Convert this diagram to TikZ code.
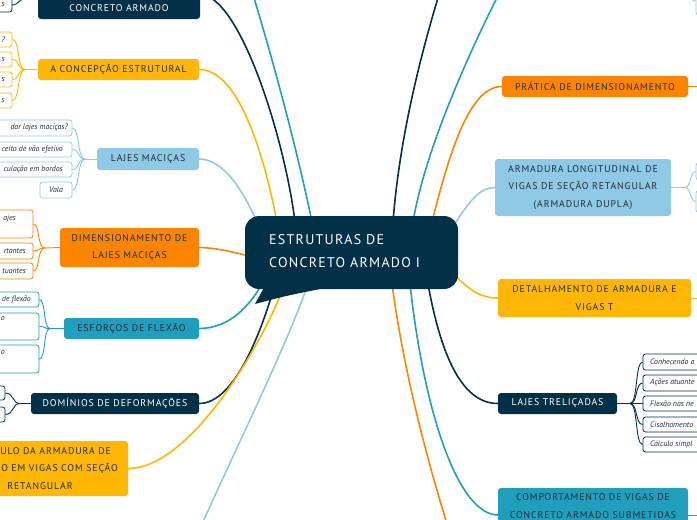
\documentclass[tikz,border=0pt]{standalone}
\usepackage{fontspec}
\setmainfont{PT Sans}
\newfontfamily\tfont[LetterSpace=9]{PT Sans}
\newfontfamily\lfont{PT Sans}
\definecolor{cNavy}{HTML}{023047}
\definecolor{cTeal}{HTML}{219EBC}
\definecolor{cLblue}{HTML}{8ECAE6}
\definecolor{cYel}{HTML}{FFB703}
\definecolor{cOr}{HTML}{FB8500}
\definecolor{cTxt}{HTML}{22303A}
\tikzset{
  topic/.style={rounded corners=3pt, inner sep=0pt, align=center, text=cTxt,
    font=\tfont\fontsize{9.8pt}{17.5pt}\selectfont},
  darktopic/.style={topic, fill=cNavy, text=white},
  leafbox/.style={draw=#1, fill=white, rounded corners=2.5pt, line width=0.8pt, inner sep=0pt},
  ltext/.style={inner sep=0pt, text=cTxt, font=\lfont\itshape\fontsize{7.8pt}{9pt}\selectfont},
  conn/.style={line width=1.6pt, #1},
  sub/.style={line width=0.9pt, #1},
}
\begin{document}
\begin{tikzpicture}[x=1pt,y=-1pt]
\useasboundingbox (0,0) rectangle (697,520);
\clip (0,0) rectangle (697,520);
\fill[white] (0,0) rectangle (697,520);

% ---------- topic boxes ----------
\node[darktopic, minimum width=162pt, minimum height=40pt] (concreto) at (119,-1) {};
\node[inner sep=0pt, text=white, font=\tfont\fontsize{9.8pt}{17pt}\selectfont] (concretot) at (119,8) {CONCRETO ARMADO};
\node[topic, fill=cYel, minimum width=161pt, minimum height=21pt] (concep) at (118.5,69.5) {A CONCEPÇÃO ESTRUTURAL};
\node[topic, fill=cLblue, minimum width=102pt, minimum height=22pt] (lajesm) at (148,159) {LAJES MACIÇAS};
\node[topic, fill=cOr, minimum width=139pt, minimum height=39pt] (dimlm) at (129.5,247.5) {DIMENSIONAMENTO DE\\LAJES MACIÇAS};
\node[topic, fill=cTeal, minimum width=135pt, minimum height=21pt] (esforc) at (131.5,328.5) {ESFORÇOS DE FLEXÃO};
\node[darktopic, minimum width=168pt, minimum height=21pt] (dominios) at (115,403.5) {DOMÍNIOS DE DEFORMAÇÕES};
\node[topic, fill=cYel, minimum width=176pt, minimum height=55pt] (calc) at (40,468.5) {};
\node[topic, anchor=east] (calc1) at (111,451) {ULO DA ARMADURA DE};
\node[topic, anchor=east] (calc2) at (118,468.5) {O EM VIGAS COM SEÇÃO};
\node[topic] (calc3) at (40,486) {RETANGULAR};

\node[topic, fill=cOr, minimum width=186pt, minimum height=21pt] (pratica) at (595,86.5) {PRÁTICA DE DIMENSIONAMENTO};
\node[topic, fill=cLblue, minimum width=176pt, minimum height=57pt] (armlong) at (583,187.5) {ARMADURA LONGITUDINAL DE\\VIGAS DE SEÇÃO RETANGULAR\\(ARMADURA DUPLA)};
\node[topic, fill=cYel, minimum width=193pt, minimum height=38pt] (detalh) at (594.5,298) {DETALHAMENTO DE ARMADURA E\\VIGAS T};
\node[darktopic, minimum width=119pt, minimum height=21pt] (lajestr) at (557.5,403.5) {LAJES TRELIÇADAS};
\node[topic, fill=cTeal, minimum width=190pt, minimum height=60pt] (comport) at (593,518) {};
\node[topic] (comportt) at (593,506) {COMPORTAMENTO DE VIGAS DE\\CONCRETO ARMADO SUBMETIDAS};

% off-picture ends
\coordinate (offA) at (251,-12);
\coordinate (offB) at (195,540);
\coordinate (offC) at (441,-12);
\coordinate (offD) at (502,-12);
\coordinate (offE) at (452,540);

% ---------- main connectors ----------
\draw[conn=cNavy] (199,-6) .. controls (240,-6) and (285,140) .. (295,222);
\draw[conn=cYel] (concep.east) .. controls (240,69.5) and (265,160) .. (277,222);
\draw[conn=cLblue] (lajesm.east) .. controls (225,159) and (245,195) .. (257,222);
\draw[conn=cOr] (dimlm.east) .. controls (220,248) and (235,253) .. (250,256);
\draw[conn=cTeal] (esforc.east) .. controls (230,328.5) and (250,305) .. (262,284);
\draw[conn=cNavy] (dominios.east) .. controls (235,403.5) and (262,330) .. (275,284);
\draw[conn=cYel] (calc.east) .. controls (190,468.5) and (262,345) .. (285,284);
\draw[conn=cLblue] (308,284) .. controls (285,350) and (230,460) .. (offB);
\draw[conn=cTeal] (312,222) .. controls (295,140) and (270,50) .. (offA);

\draw[conn=cNavy] (393,222) .. controls (400,130) and (425,40) .. (offC);
\draw[conn=cTeal] (413,222) .. controls (425,150) and (470,50) .. (offD);
\draw[conn=cOr] (432,222) .. controls (450,150) and (470,86.5) .. (pratica.west);
\draw[conn=cLblue] (452,228) .. controls (470,200) and (480,187.5) .. (armlong.west);
\draw[conn=cYel] (452,273) .. controls (470,290) and (480,298) .. (detalh.west);
\draw[conn=cNavy] (428,284) .. controls (440,350) and (460,403.5) .. (lajestr.west);
\draw[conn=cTeal] (410,284) .. controls (425,420) and (460,515) .. (498,515);
\draw[conn=cOr] (392,284) .. controls (405,380) and (430,470) .. (offE);

% ---------- central node ----------
\node[fill=cNavy, rounded corners=14pt, minimum width=213pt, minimum height=73pt, inner sep=0pt] (central) at (351.5,252.5) {};
\fill[cNavy] (266,284) -- (255,304) .. controls (285,296) .. (335,286) -- cycle;
\node[anchor=west, align=left, inner sep=0pt, text=white, font=\tfont\fontsize{14pt}{23pt}\selectfont] (ctitle) at (269,251.5) {ESTRUTURAS DE\\CONCRETO ARMADO I};

% ---------- right-side stubs ----------
\coordinate (rA) at (697,86.5);
\coordinate (rB) at (697,298);
\coordinate (rC) at (697,515);
\draw[sub=cOr] (pratica.east) -- (rA);
\draw[sub=cYel] (detalh.east) -- (rB);
\draw[sub=cTeal] (688,515) -- (rC);

% ---------- leaves: CONCRETO ARMADO ----------
\node[leafbox=cNavy, minimum width=42pt, minimum height=24pt] (k1) at (-9,0) {};
\node[ltext, anchor=east] (k1t) at (5,5) {s};
\coordinate (jk) at (25,-1);
\draw[sub=cNavy] (concreto.west |- jk) -- (jk) .. controls (18,-1) and (19,5) .. (12,5);

% ---------- leaves: A CONCEPÇÃO ----------
\node[leafbox=cYel, minimum width=42pt, minimum height=15pt] (a1) at (-9,39.5) {};
\node[leafbox=cYel, minimum width=42pt, minimum height=15pt] (a2) at (-9,59.5) {};
\node[leafbox=cYel, minimum width=42pt, minimum height=15pt] (a3) at (-9,79.5) {};
\node[leafbox=cYel, minimum width=42pt, minimum height=15pt] (a4) at (-9,100.5) {};
\node[ltext, anchor=east] at (5,39.5) {?};
\node[ltext, anchor=east] at (5,59.5) {s};
\node[ltext, anchor=east] at (5,79.5) {s};
\node[ltext, anchor=east] at (5,100.5) {s};
\coordinate (ja) at (25,69.5);
\draw[sub=cYel] (concep.west) -- (ja);
\foreach \n in {a1,a2,a3,a4}{
  \draw[sub=cYel] (ja) .. controls (17,69.5) and (20,0|-\n.east) .. (\n.east);
}

% ---------- leaves: LAJES MACIÇAS ----------
\node[leafbox=cLblue, minimum width=102pt, minimum height=16pt] (b1) at (21,128) {};
\node[leafbox=cLblue, minimum width=102pt, minimum height=15pt] (b2) at (21,149.5) {};
\node[leafbox=cLblue, minimum width=102pt, minimum height=15pt] (b3) at (21,169.5) {};
\node[leafbox=cLblue, minimum width=32pt, minimum height=16pt] (b4) at (56,190) {};
\node[ltext, anchor=east] at (68,128) {dar lajes maciças?};
\node[ltext, anchor=east] at (63,149.5) {ceito de vão efetivo};
\node[ltext, anchor=east] at (63,169.5) {culação em bordos};
\node[ltext] at (56,190) {Vala};
\coordinate (jb) at (85,159);
\draw[sub=cLblue] (lajesm.west) -- (jb);
\foreach \n in {b1,b2,b3,b4}{
  \draw[sub=cLblue] (jb) .. controls (77,159) and (80,0|-\n.east) .. (\n.east);
}

% ---------- leaves: DIMENSIONAMENTO DE LAJES ----------
\node[leafbox=cOr, minimum width=60pt, minimum height=28pt] (d1) at (3,224) {};
\node[leafbox=cOr, minimum width=60pt, minimum height=16pt] (d2) at (3,251) {};
\node[leafbox=cOr, minimum width=60pt, minimum height=16pt] (d3) at (3,271) {};
\node[ltext, anchor=east] at (16,219) {ajes};
\node[ltext, anchor=east] at (26,251) {rtantes};
\node[ltext, anchor=east] at (26,271) {tuantes};
\coordinate (jd) at (45,248);
\draw[sub=cOr] (dimlm.west) -- (jd);
\foreach \n in {d1,d2,d3}{
  \draw[sub=cOr] (jd) .. controls (37,248) and (40,0|-\n.east) .. (\n.east);
}

% ---------- leaves: ESFORÇOS DE FLEXÃO ----------
\node[leafbox=cTeal, minimum width=60pt, minimum height=15pt] (e1) at (9,299.5) {};
\node[leafbox=cTeal, minimum width=60pt, minimum height=27pt] (e2) at (9,326.5) {};
\node[leafbox=cTeal, minimum width=60pt, minimum height=28pt] (e3) at (9,359) {};
\node[ltext, anchor=east] at (31,299.5) {de flexão};
\node[ltext, anchor=east] at (5,319) {o};
\node[ltext, anchor=east] at (5,353) {o};
\coordinate (je) at (50,328.5);
\draw[sub=cTeal] (esforc.west) -- (je);
\foreach \n in {e1,e2,e3}{
  \draw[sub=cTeal] (je) .. controls (43,328.5) and (46,0|-\n.east) .. (\n.east);
}

% ---------- leaves: DOMÍNIOS ----------
\node[leafbox=cNavy, minimum width=40pt, minimum height=14pt] (f1) at (-15,393) {};
\node[leafbox=cNavy, minimum width=40pt, minimum height=15pt] (f2) at (-15,414.5) {};
\coordinate (jf) at (20,403.5);
\draw[sub=cNavy] (dominios.west) -- (jf);
\foreach \n in {f1,f2}{
  \draw[sub=cNavy] (jf) .. controls (12,403.5) and (14,0|-\n.east) .. (\n.east);
}

% ---------- leaves: ARMADURA LONGITUDINAL ----------
\node[leafbox=cLblue, minimum width=60pt, minimum height=17pt] (g1) at (726,171.5) {};
\node[leafbox=cLblue, minimum width=60pt, minimum height=22pt] (g2) at (726,201.5) {};
\coordinate (jg) at (685,187.5);
\draw[sub=cLblue] (armlong.east) -- (jg);
\foreach \n in {g1,g2}{
  \draw[sub=cLblue] (jg) .. controls (691,187.5) and (690,0|-\n.west) .. (\n.west);
}

% ---------- top-right leaf fragment ----------
\node[leafbox=cLblue, minimum width=60pt, minimum height=28pt] (h1) at (726,1) {};
\coordinate (jh) at (684,-12);
\draw[sub=cLblue] (jh) .. controls (692,-12) and (688,1) .. (h1.west);

% ---------- leaves: LAJES TRELIÇADAS ----------
\node[leafbox=cNavy, minimum width=120pt, minimum height=16pt] (t1) at (703,362) {};
\node[leafbox=cNavy, minimum width=120pt, minimum height=16pt] (t2) at (703,383) {};
\node[leafbox=cNavy, minimum width=120pt, minimum height=15pt] (t3) at (703,403.5) {};
\node[leafbox=cNavy, minimum width=120pt, minimum height=15pt] (t4) at (703,424.5) {};
\node[leafbox=cNavy, minimum width=120pt, minimum height=15pt] (t5) at (703,444.5) {};
\node[ltext, anchor=west] at (650,362) {Conhecendo a};
\node[ltext, anchor=west] at (650,383) {Ações atuante};
\node[ltext, anchor=west] at (650,403.5) {Flexão nas ne};
\node[ltext, anchor=west] at (650,424.5) {Cisalhamento};
\node[ltext, anchor=west] at (650,444.5) {Cálculo simpl};
\coordinate (jt) at (630,403.5);
\draw[sub=cNavy] (lajestr.east) -- (jt);
\foreach \n in {t1,t2,t3,t4,t5}{
  \draw[sub=cNavy] (jt) .. controls (638,403.5) and (635,0|-\n.west) .. (\n.west);
}
\end{tikzpicture}
\end{document}
